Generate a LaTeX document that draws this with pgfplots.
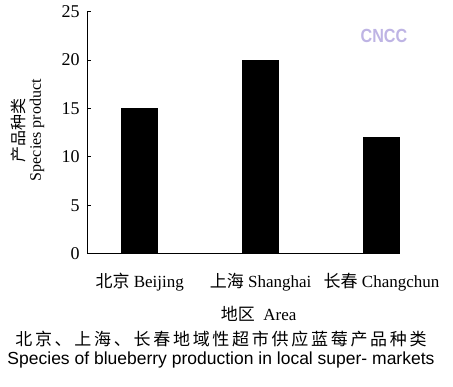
\documentclass[border=0pt]{standalone}
\usepackage{pgfplots}
\pgfplotsset{compat=1.18}
\usepackage{fontspec}
\setmainfont{Liberation Serif}
\newfontfamily\cjk{Noto Sans CJK SC}
\newfontfamily\cjkcap[LetterSpace=16]{Noto Sans CJK SC}
\newfontfamily\capsans{Liberation Sans}
\newfontfamily\wmsans[FakeStretch=0.85]{Liberation Sans}
\definecolor{wm}{RGB}{190,180,228}
\begin{document}
\begin{tikzpicture}[x=1pt,y=1pt]
\path[use as bounding box] (0,0) rectangle (453,-386);
\begin{axis}[
  at={(72,-262)}, anchor=south west,
  scale only axis, width=312pt, height=242pt,
  axis x line*=bottom, axis y line*=left,
  axis line style={black, line width=0.8pt},
  xmin=-0.435, xmax=2.145, ymin=0, ymax=25,
  ytick={0,5,10,15,20,25},
  xtick={0,1,2},
  xticklabels={{\cjk 北京}\ Beijing,{\cjk 上海}\ Shanghai,{\cjk 长春}\ Changchun},
  x tick style={draw=none},
  y tick style={black, line width=0.8pt},
  tick align=inside, major tick length=4pt,
  /pgf/number format/assume math mode=true,
  tick label style={font=\fontsize{18}{18}\selectfont},
  xticklabel style={yshift=-16pt, font=\fontsize{17}{17}\selectfont},
  yticklabel style={xshift=-4pt},
  ylabel={{\cjk 产品种类}\\Species product},
  ylabel style={at={(axis description cs:-0.19,0.51)}, anchor=center, align=center, font=\fontsize{16}{16}\selectfont},
  xlabel={{\cjk 地区}\ \ Area},
  xlabel style={at={(axis description cs:0.55,-0.25)}, anchor=center, font=\fontsize{17}{17}\selectfont},
  clip=false,
]
\addplot[ybar, bar width=36pt, fill=black, draw=black] coordinates {(0,15) (1,20) (2,12)};
\end{axis}
\node[text=wm, font=\wmsans\bfseries\fontsize{19}{19}\selectfont] at (384,-36) {CNCC};
\node[font=\cjkcap\fontsize{17}{17}\selectfont] at (221,-339) {北京、上海、长春地域性超市供应蓝莓产品种类};
\node[font=\capsans\fontsize{17.5}{18}\selectfont] at (221,-360) {Species of blueberry production in local super- markets};
\end{tikzpicture}
\end{document}
